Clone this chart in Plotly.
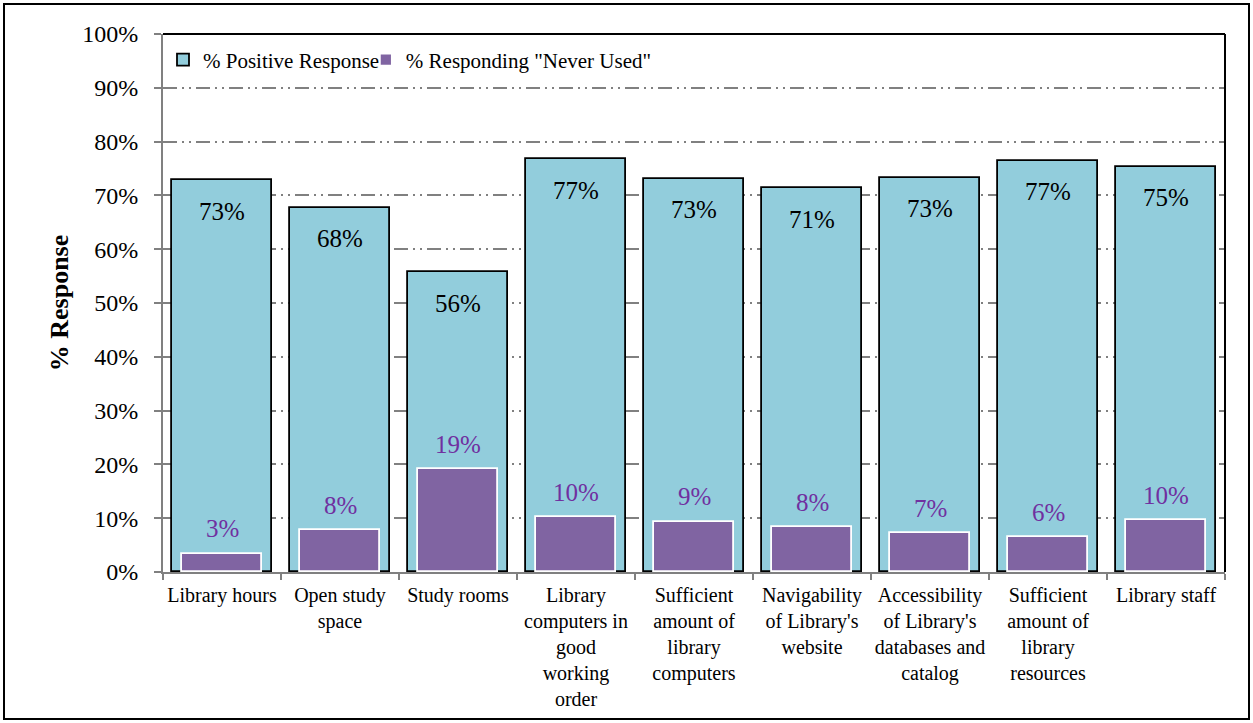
import plotly.graph_objects as go

categories = [
    "Library hours",
    "Open study<br>space",
    "Study rooms",
    "Library<br>computers in<br>good<br>working<br>order",
    "Sufficient<br>amount of<br>library<br>computers",
    "Navigability<br>of Library's<br>website",
    "Accessibility<br>of Library's<br>databases and<br>catalog",
    "Sufficient<br>amount of<br>library<br>resources",
    "Library staff",
]
positive = [72.8, 67.7, 55.7, 76.7, 73.1, 71.3, 73.3, 76.4, 75.3]
never_used = [3.4, 7.8, 19.1, 10.2, 9.3, 8.3, 7.2, 6.5, 9.6]
positive_labels = ["73%", "68%", "56%", "77%", "73%", "71%", "73%", "77%", "75%"]
never_labels = ["3%", "8%", "19%", "10%", "9%", "8%", "7%", "6%", "10%"]
y_ticks = [0, 10, 20, 30, 40, 50, 60, 70, 80, 90, 100]
y_ticklabels = [f"{v}%" for v in y_ticks]

FONT = "Liberation Serif"

fig = go.Figure()
fig.add_trace(go.Bar(
    x=categories, y=positive, name="% Positive Response",
    marker=dict(color="#92CDDC", line=dict(color="black", width=1.8)),
    width=0.84, legend="legend",
))
fig.add_trace(go.Bar(
    x=categories, y=never_used, name='% Responding "Never Used"',
    marker=dict(color="#8064A2", line=dict(color="white", width=1.8)),
    width=0.67, legend="legend2",
))

annotations = []
for c, v, t in zip(categories, positive, positive_labels):
    annotations.append(dict(x=c, y=v, text=t, showarrow=False, xref="x", yref="y",
                            yshift=-31, font=dict(family=FONT, size=25, color="black")))
for c, v, t in zip(categories, never_used, never_labels):
    annotations.append(dict(x=c, y=v, text=t, showarrow=False, xref="x", yref="y",
                            yshift=25, font=dict(family=FONT, size=25, color="#7030A0")))

L, R, T, B = 163, 28, 34, 151
W, H = 1253, 723
pw, ph = W - L - R, H - T - B

legend_style = dict(
    orientation="h", yanchor="top", xanchor="left", y=0.99,
    bgcolor="rgba(255,255,255,0)", font=dict(family=FONT, size=21), itemwidth=30,
)

fig.update_layout(
    width=W, height=H,
    barmode="overlay",
    bargap=0,
    plot_bgcolor="white",
    paper_bgcolor="white",
    margin=dict(l=L, r=R, t=T, b=B),
    font=dict(family=FONT, size=20, color="black"),
    showlegend=True,
    legend=dict(x=0.0, **legend_style),
    legend2=dict(x=0.191, **legend_style),
    annotations=annotations,
    xaxis=dict(
        showline=True, linecolor="#808080", linewidth=2,
        ticks="outside", tickson="boundaries", ticklen=6, tickcolor="#808080", tickwidth=2,
        ticklabelstandoff=4,
        tickfont=dict(family=FONT, size=20, color="black"),
        tickangle=0,
        showgrid=False,
    ),
    yaxis=dict(
        range=[0, 100], tickvals=y_ticks, ticktext=y_ticklabels,
        showline=True, linecolor="#808080", linewidth=2,
        ticks="outside", ticklen=7, tickcolor="#808080", tickwidth=2,
        ticklabelstandoff=11,
        tickfont=dict(family=FONT, size=24, color="black"),
        showgrid=True, gridcolor="#808080", gridwidth=1.5,
        griddash="14px,5px,2px,5px,2px,5px",
        zeroline=False,
        title=dict(text="<b>% Response</b>", font=dict(family=FONT, size=26), standoff=6),
    ),
    shapes=[
        dict(type="line", xref="paper", yref="paper", x0=0, x1=1, y0=1, y1=1,
             line=dict(color="black", width=2)),
        dict(type="line", xref="paper", yref="paper", x0=1, x1=1, y0=0, y1=1,
             line=dict(color="black", width=2)),
        dict(type="rect", xref="paper", yref="paper",
             x0=(4 - L) / pw, x1=(W - 4 - L) / pw,
             y0=-(H - 4 - T - ph) / ph, y1=1 + (T - 4) / ph,
             line=dict(color="black", width=2), fillcolor="rgba(0,0,0,0)"),
    ],
)

fig.write_html(
    "out.html",
    config={"displayModeBar": False},
    post_script="document.body.style.margin='0';document.body.style.overflow='hidden';",
)
